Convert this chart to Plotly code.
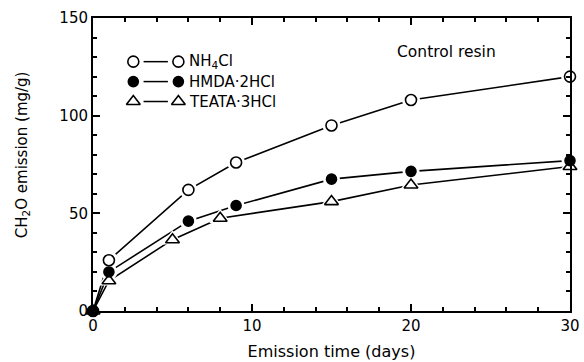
import plotly.graph_objects as go

# Emission time (days) and CH2O emission (mg/g) for each catalyst
days_nh4cl = [0, 1, 6, 9, 15, 20, 30]
nh4cl = [0, 26, 62, 76, 95, 108, 120]

days_hmda = [0, 1, 6, 9, 15, 20, 30]
hmda = [0, 20, 46, 54, 67.5, 71.5, 77]

days_teata = [0, 1, 5, 8, 15, 20, 30]
teata = [0, 15.5, 36.5, 47.5, 56, 64.5, 74]

# (label, x, y, symbol, fill, size)
series = [
    ("NH<sub>4</sub>Cl", days_nh4cl, nh4cl, "circle", "white", 11),
    ("HMDA·2HCl", days_hmda, hmda, "circle", "black", 10),
    ("TEATA·3HCl", days_teata, teata, "triangle-up", "white", 12),
]
# filled symbols go on top so the shared origin point reads as a solid dot
draw_order = [0, 2, 1]

FONT = "DejaVu Sans"
INK = "black"


def symbol_marker(sym, fill, size):
    return dict(symbol=sym, size=size, color=fill, line=dict(color=INK, width=1.6))


fig = go.Figure()

# connecting lines
for name, x, y, sym, fill, size in series:
    fig.add_trace(go.Scatter(x=x, y=y, mode="lines",
                             line=dict(color=INK, width=1.6),
                             hoverinfo="skip", showlegend=False))
# white halos leave a small gap between the lines and the symbols
for name, x, y, sym, fill, size in series:
    fig.add_trace(go.Scatter(x=x[1:], y=y[1:], mode="markers",
                             marker=dict(symbol=sym, size=size + 7, color="white",
                                         line=dict(width=0)),
                             hoverinfo="skip", showlegend=False, cliponaxis=False))
# data symbols
for i in draw_order:
    name, x, y, sym, fill, size = series[i]
    fig.add_trace(go.Scatter(x=x, y=y, mode="markers", name=name,
                             marker=symbol_marker(sym, fill, size),
                             showlegend=False, cliponaxis=False))

# key drawn on an overlaid unit axis: symbol — symbol  label
key_rows = [0.851, 0.783, 0.715]
key_x = [0.0845, 0.179]
for (name, x, y, sym, fill, size), ry in zip(series, key_rows):
    fig.add_trace(go.Scatter(x=[0.106, 0.157], y=[ry, ry], mode="lines",
                             line=dict(color=INK, width=1.5), xaxis="x2", yaxis="y2",
                             hoverinfo="skip", showlegend=False))
    fig.add_trace(go.Scatter(x=key_x, y=[ry, ry], mode="markers",
                             marker=symbol_marker(sym, fill, size),
                             xaxis="x2", yaxis="y2", hoverinfo="skip", showlegend=False))
    fig.add_annotation(x=0.198, y=ry, xref="paper", yref="paper", text=name,
                       showarrow=False, xanchor="left", yanchor="middle",
                       font=dict(family=FONT, size=15, color=INK))

fig.add_annotation(x=0.741, y=0.885, xref="paper", yref="paper", text="Control resin",
                   showarrow=False, xanchor="center", yanchor="middle",
                   font=dict(family=FONT, size=15.5, color=INK))

fig.add_annotation(x=-0.148, y=0.533, xref="paper", yref="paper",
                   text="CH<sub>2</sub>O emission (mg/g)", textangle=-90,
                   showarrow=False, xanchor="center", yanchor="middle",
                   font=dict(family=FONT, size=15, color=INK))

axis_common = dict(showgrid=False, zeroline=False, showline=True, linecolor=INK,
                   linewidth=2, mirror="ticks", ticks="inside", tickcolor=INK,
                   tickwidth=1.5, ticklen=7, automargin=False,
                   tickfont=dict(family=FONT, size=15, color=INK))

fig.update_layout(
    width=584, height=362,
    margin=dict(l=93, r=14, t=18, b=51),
    paper_bgcolor="white", plot_bgcolor="white",
    xaxis=dict(range=[0, 30], tickvals=[0, 10, 20, 30],
               minor=dict(dtick=2, ticks="inside", ticklen=4, tickcolor=INK, tickwidth=1.5),
               title=dict(text="Emission time (days)",
                          font=dict(family=FONT, size=16, color=INK), standoff=12),
               **axis_common),
    yaxis=dict(range=[0, 150], tickvals=[0, 50, 100, 150],
               minor=dict(dtick=10, ticks="inside", ticklen=4, tickcolor=INK, tickwidth=1.5),
               **axis_common),
    xaxis2=dict(overlaying="x", range=[0, 1], visible=False, fixedrange=True),
    yaxis2=dict(overlaying="y", range=[0, 1], visible=False, fixedrange=True),
    showlegend=False,
)

fig.write_html("out.html")
